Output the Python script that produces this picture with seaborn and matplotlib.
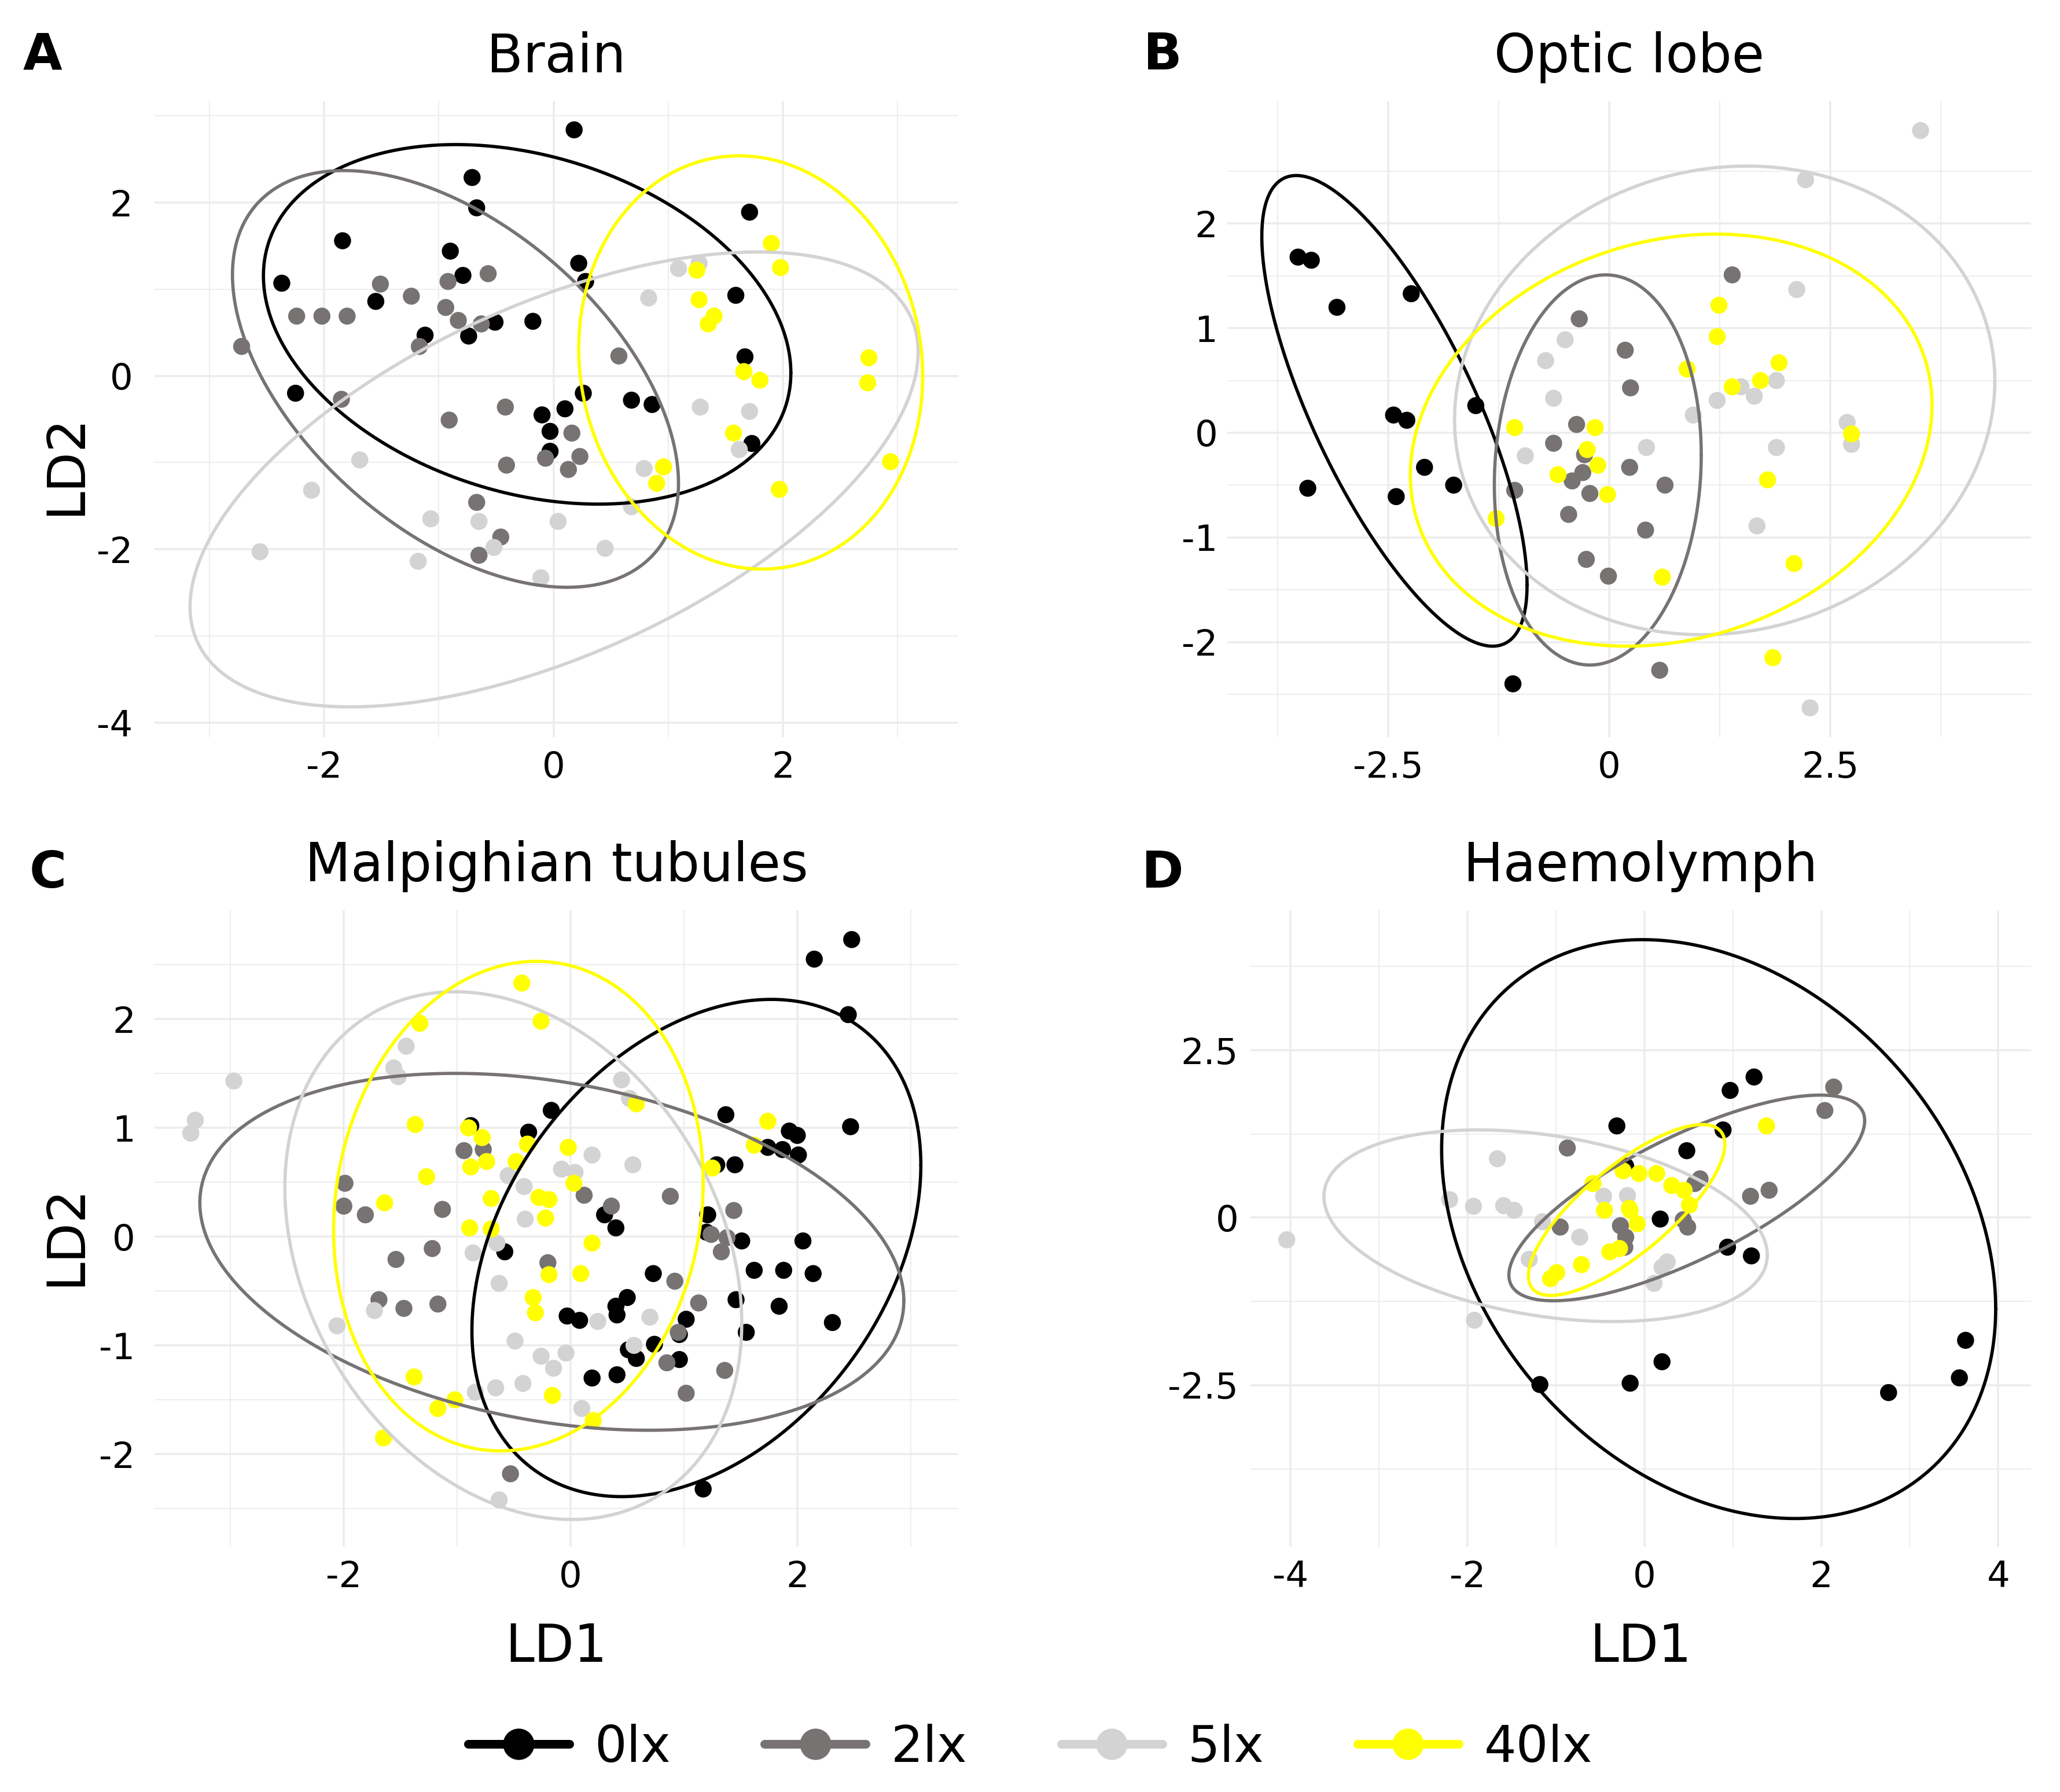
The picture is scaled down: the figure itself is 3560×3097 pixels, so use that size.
import numpy as np
import pandas as pd
import matplotlib
matplotlib.use("Agg")
import matplotlib.pyplot as plt
import seaborn as sns
from matplotlib.lines import Line2D
from matplotlib.ticker import FixedLocator, FixedFormatter

# ---------------- data ----------------
groups = ["0lx", "2lx", "5lx", "40lx"]
colors = ["#000000", "#787373", "#d3d3d3", "#ffff00"]

# Panel A: Brain (LD1, LD2)
brain_0lx = [(0.18, 2.84), (-0.71, 2.29), (-0.67, 1.94), (1.71, 1.89), (-1.84, 1.56), (-0.90, 1.44),
             (0.22, 1.30), (-0.79, 1.16), (-2.37, 1.07), (0.28, 1.09), (1.59, 0.93), (-1.55, 0.86),
             (-0.51, 0.62), (-0.18, 0.63), (-1.12, 0.47), (-0.74, 0.46), (1.67, 0.22), (-2.25, -0.20),
             (0.26, -0.20), (0.68, -0.28), (0.86, -0.33), (0.10, -0.38), (-0.10, -0.45), (-0.03, -0.64),
             (-0.03, -0.87), (1.73, -0.78)]
brain_2lx = [(-2.72, 0.34), (-2.24, 0.69), (-2.02, 0.69), (-1.80, 0.69), (-1.51, 1.06), (-1.24, 0.92),
             (-0.92, 1.09), (-0.57, 1.18), (-0.94, 0.79), (-0.83, 0.64), (-0.63, 0.60), (-1.17, 0.34),
             (-1.85, -0.27), (-0.91, -0.51), (-0.42, -0.36), (0.57, 0.23), (0.16, -0.66), (0.23, -0.93),
             (-0.07, -0.95), (0.13, -1.08), (-0.41, -1.03), (-0.67, -1.46), (-0.46, -1.86), (-0.65, -2.07)]
brain_5lx = [(1.09, 1.24), (1.27, 1.30), (0.83, 0.90), (1.28, -0.36), (1.71, -0.41), (1.62, -0.85),
             (0.79, -1.07), (0.68, -1.51), (-1.69, -0.97), (-2.11, -1.32), (-2.56, -2.03), (-1.07, -1.65),
             (-0.65, -1.68), (0.04, -1.68), (-0.52, -1.98), (-1.18, -2.14), (0.45, -1.99), (-0.11, -2.33)]
brain_40lx = [(1.90, 1.53), (1.98, 1.25), (1.25, 1.22), (1.27, 0.88), (1.40, 0.69), (1.35, 0.60),
              (2.75, 0.21), (2.74, -0.08), (1.66, 0.05), (1.80, -0.05), (1.57, -0.66), (0.96, -1.05),
              (0.90, -1.24), (1.97, -1.31), (2.94, -0.99)]

# Panel B: Optic lobe
optic_0lx = [(-3.52, 1.68), (-3.37, 1.65), (-3.08, 1.20), (-2.24, 1.33), (-2.44, 0.17), (-2.29, 0.12),
             (-1.51, 0.26), (-2.09, -0.33), (-1.76, -0.50), (-3.41, -0.53), (-2.41, -0.61), (-1.09, -2.40)]
optic_2lx = [(1.39, 1.51), (-0.34, 1.09), (0.18, 0.79), (0.24, 0.43), (-0.37, 0.08), (-0.63, -0.10),
             (-0.28, -0.21), (-0.30, -0.38), (0.23, -0.33), (-0.42, -0.46), (-0.22, -0.58), (-1.07, -0.55),
             (0.63, -0.50), (-0.46, -0.78), (0.41, -0.93), (-0.26, -1.21), (-0.01, -1.37), (0.57, -2.27)]
optic_5lx = [(3.52, 2.89), (2.22, 2.42), (2.12, 1.37), (-0.50, 0.89), (-0.72, 0.69), (-0.63, 0.33),
             (1.49, 0.44), (1.64, 0.35), (1.89, 0.50), (1.22, 0.31), (0.95, 0.17), (2.69, 0.10),
             (2.74, -0.11), (1.89, -0.14), (0.42, -0.14), (-0.95, -0.22), (1.67, -0.89), (2.27, -2.63)]
optic_40lx = [(1.24, 1.22), (1.22, 0.92), (0.88, 0.61), (1.92, 0.67), (1.71, 0.50), (1.39, 0.44),
              (2.74, -0.01), (-1.07, 0.05), (-0.16, 0.05), (-0.25, -0.16), (-0.13, -0.31), (-0.58, -0.40),
              (-0.02, -0.59), (-1.28, -0.82), (1.79, -0.45), (0.60, -1.38), (2.09, -1.25), (1.85, -2.15)]

# Panel C: Malpighian tubules
malp_0lx = [(2.48, 2.73), (2.15, 2.55), (2.45, 2.04), (2.47, 1.01), (-0.17, 1.16), (1.37, 1.12),
            (1.93, 0.97), (2.00, 0.93), (1.74, 0.82), (1.87, 0.80), (2.01, 0.75), (1.29, 0.66),
            (1.45, 0.66), (-0.88, 1.02), (-0.37, 0.96), (1.21, 0.20), (0.30, 0.20), (0.40, 0.08),
            (1.20, 0.04), (1.51, -0.04), (2.05, -0.04), (-0.58, -0.14), (1.62, -0.31), (1.88, -0.31),
            (2.14, -0.34), (0.73, -0.34), (1.46, -0.58), (1.84, -0.64), (2.31, -0.79), (0.50, -0.56),
            (0.40, -0.64), (0.41, -0.72), (-0.03, -0.73), (0.08, -0.77), (1.02, -0.76), (1.55, -0.88),
            (0.96, -0.90), (0.74, -0.99), (0.51, -1.04), (0.58, -1.12), (0.96, -1.13), (0.19, -1.30),
            (0.41, -1.27), (1.17, -2.32)]
malp_2lx = [(-1.99, 0.49), (-2.00, 0.28), (-1.81, 0.20), (-1.13, 0.25), (-0.94, 0.79), (-0.77, 0.80),
            (-1.54, -0.21), (-1.22, -0.11), (-1.69, -0.58), (-1.47, -0.66), (-1.17, -0.62), (0.12, 0.38),
            (0.36, 0.28), (-0.20, -0.24), (0.88, 0.37), (1.44, 0.24), (1.24, 0.02), (1.38, -0.01),
            (1.33, -0.14), (0.92, -0.41), (1.13, -0.61), (0.95, -0.88), (0.85, -1.16), (1.36, -1.23),
            (1.02, -1.44), (-0.53, -2.18)]
malp_5lx = [(-2.97, 1.43), (-3.31, 1.07), (-3.35, 0.95), (-1.45, 1.75), (-1.56, 1.55), (-1.52, 1.47),
            (0.45, 1.44), (0.52, 1.27), (0.19, 0.75), (0.55, 0.66), (-0.08, 0.62), (0.04, 0.59),
            (-0.55, 0.56), (-0.41, 0.46), (-0.40, 0.16), (-0.65, -0.06), (-0.86, -0.15), (-0.63, -0.43),
            (-1.73, -0.68), (-2.06, -0.82), (0.24, -0.78), (0.70, -0.74), (-0.49, -0.96), (-0.04, -1.07),
            (-0.26, -1.10), (-0.15, -1.21), (0.56, -1.00), (-0.66, -1.39), (-0.42, -1.35), (-0.84, -1.43),
            (0.10, -1.58), (-0.63, -2.42)]
malp_40lx = [(-0.43, 2.33), (-1.33, 1.96), (-0.26, 1.98), (-1.37, 1.03), (-0.90, 1.00), (-0.78, 0.91),
             (-0.38, 0.85), (-0.02, 0.82), (-0.88, 0.64), (-0.74, 0.69), (-0.48, 0.69), (-1.27, 0.55),
             (0.58, 1.22), (1.74, 1.06), (1.62, 0.84), (1.25, 0.63), (-1.64, 0.31), (-0.70, 0.35),
             (-0.28, 0.36), (-0.19, 0.34), (0.03, 0.49), (-0.22, 0.17), (-0.89, 0.08), (-0.70, 0.07),
             (0.19, -0.06), (-0.19, -0.35), (0.09, -0.34), (-0.33, -0.56), (-0.31, -0.70), (-1.38, -1.29),
             (-1.02, -1.50), (-1.17, -1.58), (-0.16, -1.46), (-1.65, -1.85), (0.20, -1.69)]

# Panel D: Haemolymph
haem_0lx = [(1.24, 2.10), (0.97, 1.90), (-0.31, 1.37), (0.89, 1.31), (0.48, 1.00), (-0.21, 0.77),
            (0.18, -0.02), (0.94, -0.44), (1.21, -0.57), (0.20, -2.15), (-1.18, -2.49), (-0.16, -2.47),
            (2.76, -2.61), (3.56, -2.39), (3.63, -1.83)]
haem_2lx = [(2.14, 1.95), (2.04, 1.60), (-0.87, 1.04), (0.63, 0.58), (0.57, 0.51), (1.20, 0.32),
            (1.41, 0.41), (-0.27, -0.12), (-0.95, -0.14), (0.44, -0.03), (0.49, -0.14), (-0.21, -0.29),
            (-0.22, -0.44)]
haem_5lx = [(-4.04, -0.33), (-1.66, 0.88), (-2.20, 0.27), (-1.93, 0.17), (-1.59, 0.18), (-1.47, 0.11),
            (-1.15, -0.06), (-0.73, -0.29), (-0.46, 0.32), (-0.19, 0.33), (-1.30, -0.62), (0.26, -0.66),
            (0.20, -0.74), (0.11, -0.98), (-1.92, -1.53)]
haem_40lx = [(1.38, 1.37), (-0.24, 0.70), (-0.06, 0.66), (0.14, 0.66), (-0.58, 0.51), (0.31, 0.48),
             (0.45, 0.41), (0.51, 0.19), (-0.45, 0.11), (-0.17, 0.14), (-0.16, 0.11), (-0.08, -0.09),
             (-0.28, -0.46), (-0.39, -0.51), (-0.71, -0.70), (-0.99, -0.82), (-1.06, -0.91)]

# 95% ellipses: centre x, centre y, half x-extent, half y-extent, correlation
brain_ellipses = [(-0.23, 0.595, 2.30, 2.075, -0.27), (-0.855, -0.035, 1.945, 2.405, -0.50),
                  (0.005, -1.195, 3.175, 2.625, 0.56), (1.72, 0.155, 1.50, 2.385, -0.067)]
optic_ellipses = [(-2.43, 0.21, 1.50, 2.25, -0.74), (-0.13, -0.355, 1.17, 1.865, 0.077),
                  (1.305, 0.31, 3.055, 2.24, 0.083), (0.70, -0.07, 2.95, 1.97, 0.17)]
malp_ellipses = [(1.11, -0.105, 1.98, 2.285, 0.333), (-0.165, -0.14, 3.105, 1.64, -0.275),
                 (-0.505, -0.175, 2.015, 2.425, -0.256), (-0.46, 0.28, 1.63, 2.25, 0.098)]
haem_ellipses = [(0.84, -0.17, 3.13, 4.32, -0.275), (0.48, 0.295, 2.01, 1.535, 0.75),
                 (-1.115, -0.12, 2.505, 1.43, -0.305), (-0.20, 0.115, 1.11, 1.275, 0.77)]

titles = ["Brain", "Optic lobe", "Malpighian tubules", "Haemolymph"]
letters = ["A", "B", "C", "D"]

# axis ticks
brain_xticks, brain_yticks = [-2, 0, 2], [-4, -2, 0, 2]
optic_xticks, optic_yticks = [-2.5, 0, 2.5], [-2, -1, 0, 1, 2]
malp_xticks, malp_yticks = [-2, 0, 2], [-2, -1, 0, 1, 2]
haem_xticks, haem_yticks = [-4, -2, 0, 2, 4], [-2.5, 0, 2.5]


def to_frame(sets):
    rows = []
    for g, pts in zip(groups, sets):
        for x, y in pts:
            rows.append({"LD1": x, "LD2": y, "Light": g})
    return pd.DataFrame(rows)


panels = [
    (to_frame([brain_0lx, brain_2lx, brain_5lx, brain_40lx]), brain_ellipses, brain_xticks, brain_yticks),
    (to_frame([optic_0lx, optic_2lx, optic_5lx, optic_40lx]), optic_ellipses, optic_xticks, optic_yticks),
    (to_frame([malp_0lx, malp_2lx, malp_5lx, malp_40lx]), malp_ellipses, malp_xticks, malp_yticks),
    (to_frame([haem_0lx, haem_2lx, haem_5lx, haem_40lx]), haem_ellipses, haem_xticks, haem_yticks),
]

# ---------------- layout ----------------
W, H = 3561, 3097
sns.set_theme(style="white")
plt.rcParams["font.family"] = ["DejaVu Sans"]
plt.rcParams["axes.unicode_minus"] = False
plt.rcParams["text.color"] = "black"
plt.rcParams["axes.labelcolor"] = "black"
plt.rcParams["axes.titlecolor"] = "black"

fig = plt.figure(figsize=(W / 300, H / 300), dpi=300)

rects_px = [(267, 175, 1656, 1274), (2121, 175, 3510, 1274),
            (267, 1573, 1656, 2673), (2161, 1573, 3510, 2673)]
limits = [((-3.48, 3.53), (-4.17, 3.17)), ((-4.32, 4.77), (-2.91, 3.17)),
          ((-3.67, 3.42), (-2.85, 3.0)), ((-4.45, 4.37), (-4.91, 4.59))]
ypads = [9, 4, 8, 5]
letter_pos = [(40, 96), (1976, 96), (51, 1510), (1973, 1510)]

palette = dict(zip(groups, colors))
grid_c = "#ececec"

for i, (df, ells, xt, yt) in enumerate(panels):
    l, t, r, b = rects_px[i]
    ax = fig.add_axes([l / W, 1 - b / H, (r - l) / W, (b - t) / H])
    (x0, x1), (y0, y1) = limits[i]

    # grid (major + minor, ggplot minimal style)
    dx = xt[1] - xt[0]
    dy = yt[1] - yt[0]
    xmin = np.arange(xt[0] - dx * 2.5, xt[-1] + dx * 2.6, dx)
    ymin = np.arange(yt[0] - dy * 2.5, yt[-1] + dy * 2.6, dy)
    xminor = [v for v in xmin if x0 < v < x1]
    yminor = [v for v in ymin if y0 < v < y1]
    ax.xaxis.set_major_locator(FixedLocator(xt))
    ax.yaxis.set_major_locator(FixedLocator(yt))
    ax.xaxis.set_major_formatter(FixedFormatter([f"{v:g}" for v in xt]))
    ax.yaxis.set_major_formatter(FixedFormatter([f"{v:g}" for v in yt]))
    ax.xaxis.set_minor_locator(FixedLocator(xminor))
    ax.yaxis.set_minor_locator(FixedLocator(yminor))
    ax.grid(which="major", color=grid_c, linewidth=0.85, zorder=0)
    ax.grid(which="minor", color=grid_c, linewidth=0.45, zorder=0)
    ax.set_axisbelow(True)

    sns.scatterplot(data=df, x="LD1", y="LD2", hue="Light", hue_order=groups, palette=palette,
                    s=50, linewidth=0, legend=False, ax=ax, zorder=2)

    tt = np.linspace(0, 2 * np.pi, 300)
    for g, (cx, cy, hw, hh, rho) in zip(groups, ells):
        ex = cx + hw * np.cos(tt)
        ey = cy + hh * (rho * np.cos(tt) + np.sqrt(1 - rho ** 2) * np.sin(tt))
        ax.plot(ex, ey, color=palette[g], linewidth=1.35, zorder=3)

    ax.set_xlim(x0, x1)
    ax.set_ylim(y0, y1)
    for s in ax.spines.values():
        s.set_visible(False)
    ax.tick_params(which="both", length=0)
    ax.tick_params(axis="x", labelsize=15, pad=5.5, colors="black")
    ax.tick_params(axis="y", labelsize=15, pad=ypads[i], colors="black")
    ax.set_title(titles[i], fontsize=22, pad=12, color="black")

    if i in (0, 2):
        ax.set_ylabel("LD2", fontsize=21.5, color="black")
        yc = 0.4286 if i == 0 else 0.489
        ax.yaxis.set_label_coords(-0.078, yc)
    else:
        ax.set_ylabel("")
    if i in (2, 3):
        ax.set_xlabel("LD1", fontsize=21.5, color="black")
        ax.xaxis.set_label_coords(0.5, -0.118)
    else:
        ax.set_xlabel("")

    lx, ly = letter_pos[i]
    fig.text(lx / W, 1 - ly / H, letters[i], fontsize=21, fontweight="bold", ha="left", va="center",
             color="black")

handles = [Line2D([0], [0], color=c, linewidth=3.6, marker="o", markersize=13, markeredgewidth=0)
           for c in colors]
fig.legend(handles, groups, loc="center", bbox_to_anchor=(0.5, 0.0245), ncol=4, frameon=False,
           fontsize=21, handlelength=2.0, handletextpad=0.5, columnspacing=1.85)

fig.savefig("out.png", dpi=300, facecolor="white")
